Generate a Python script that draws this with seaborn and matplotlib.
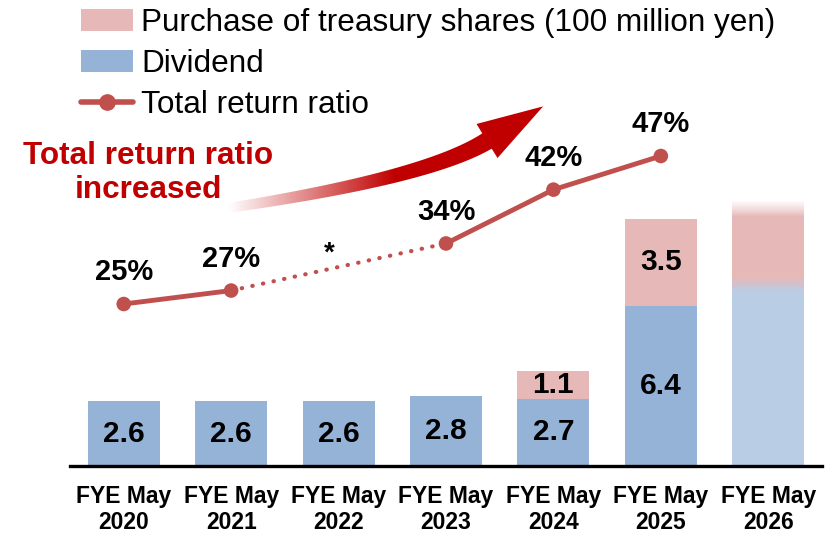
import numpy as np
import pandas as pd
import matplotlib
matplotlib.use('Agg')
import matplotlib.pyplot as plt
import seaborn as sns
from matplotlib.patches import Patch, Polygon
from matplotlib.lines import Line2D
from matplotlib.colors import LinearSegmentedColormap, to_rgb

# 데이터
years = ['FYE May\n2020', 'FYE May\n2021', 'FYE May\n2022', 'FYE May\n2023',
         'FYE May\n2024', 'FYE May\n2025', 'FYE May\n2026']
dividend = [2.6, 2.6, 2.6, 2.8, 2.7, 6.4, 7.0]
purchase = [0.0, 0.0, 0.0, 0.0, 1.1, 3.5, 3.6]
ratio = [25, 27, np.nan, 34, 42, 47, np.nan]

PINK = '#E6B9B8'
BLUE = '#95B3D7'
BLUE_LIGHT = '#B9CDE5'
LINE_RED = '#C0504D'
DARK_RED = '#C00000'

sns.set_theme(style='white')
plt.rcParams['font.family'] = ['Liberation Sans', 'DejaVu Sans']
plt.rcParams['text.color'] = 'black'
plt.rcParams['xtick.color'] = 'black'

df = pd.DataFrame({'year': years, 'dividend': dividend, 'purchase': purchase, 'ratio': ratio})
pos = np.arange(len(df))

fig = plt.figure(figsize=(8.37, 5.34), dpi=100)
ax = fig.add_axes([70 / 837, 68 / 534, 752 / 837, 466 / 534])
ax.patch.set_visible(False)

# 배당 막대
sns.barplot(data=df, x='year', y='dividend', color=BLUE, saturation=1,
            width=0.67, linewidth=0, ax=ax)
# 자사주 매입 (누적)
ax.bar(pos, df['purchase'], bottom=df['dividend'], width=0.67, color=PINK, linewidth=0)

# 2026 (계획) 막대는 흐리게
last = len(df) - 1
ax.patches[last].set_facecolor(BLUE_LIGHT)

bw = 0.67
x0, x1 = last - bw / 2, last + bw / 2
top = dividend[last] + purchase[last]
# 위쪽 페이드
fade = np.zeros((50, 1, 4))
fade[..., :3] = 1.0
fade[:, 0, 3] = np.linspace(0, 1, 50) ** 0.8
ax.imshow(fade, extent=[x0 - 0.01, x1 + 0.01, top - 0.6, top + 0.02], aspect='auto',
          origin='lower', zorder=3, interpolation='bilinear')
# 파랑-분홍 경계 그라데이션
c1, c2 = np.array(to_rgb(BLUE_LIGHT)), np.array(to_rgb(PINK))
tt = np.linspace(0, 1, 50)[:, None]
blend = (c1 * (1 - tt) + c2 * tt)[:, None, :]
ax.imshow(blend, extent=[x0, x1, dividend[last] - 0.05, dividend[last] + 0.55], aspect='auto',
          origin='lower', zorder=3, interpolation='bilinear')

ax.set_xlim(-0.5, len(df) - 0.5)
ax.set_ylim(0, 18.64)

# 막대 값 라벨
for i in range(len(df) - 1):
    ax.text(i, dividend[i] / 2, f'{dividend[i]:.1f}', ha='center', va='center',
            fontsize=21.5, fontweight='bold', color='black', zorder=5)
    if purchase[i] > 0:
        ax.text(i, dividend[i] + purchase[i] / 2, f'{purchase[i]:.1f}', ha='center', va='center',
                fontsize=21.5, fontweight='bold', color='black', zorder=5)

ax.set_xlabel('')
ax.set_ylabel('')
ax.set_yticks([])
ax.set_xticks(pos)
ax.set_xticklabels(years, fontsize=16.5, fontweight='bold', linespacing=1.15)
ax.tick_params(axis='x', length=0, pad=14)
for s in ['top', 'right', 'left']:
    ax.spines[s].set_visible(False)
ax.spines['bottom'].set_color('black')
ax.spines['bottom'].set_linewidth(2.4)

# 총환원율 꺾은선
ax2 = ax.twinx()
ax2.patch.set_visible(False)
ax2.set_ylim(0.92, 70.19)
ax2.set_yticks([])
for s in ax2.spines.values():
    s.set_visible(False)

sns.lineplot(x=pos[[0, 1]], y=[ratio[0], ratio[1]], color=LINE_RED, linewidth=3.5, ax=ax2)
sns.lineplot(x=pos[[1, 3]], y=[ratio[1], ratio[3]], color=LINE_RED, linewidth=3.0,
             linestyle=(0, (0.1, 2.5)), dash_capstyle='round', ax=ax2)
sns.lineplot(x=pos[[3, 4, 5]], y=[ratio[3], ratio[4], ratio[5]], color=LINE_RED,
             linewidth=3.5, ax=ax2)
valid = ~np.isnan(df['ratio'])
sns.scatterplot(x=pos[valid], y=df['ratio'][valid], s=110, color=LINE_RED,
                edgecolor='none', zorder=5, ax=ax2)
for i in pos[valid]:
    ax2.annotate(f'{int(ratio[i])}%', (i, ratio[i]), xytext=(0, 23), textcoords='offset points',
                 ha='center', va='center', fontsize=21, fontweight='bold')
ax2.text(1.91, 32.5, '*', ha='center', va='center', fontsize=20, fontweight='bold')

# 범례
handles = [
    Patch(facecolor=PINK, edgecolor='none', label='Purchase of treasury shares (100 million yen)'),
    Patch(facecolor=BLUE, edgecolor='none', label='Dividend'),
    Line2D([0], [0], color=LINE_RED, linewidth=4, marker='o', markersize=11,
           markeredgecolor=LINE_RED, label='Total return ratio'),
]
fig.legend(handles=handles, loc='upper left', bbox_to_anchor=(78 / 837, 1 - 5 / 534),
           frameon=False, fontsize=22.7, handlelength=1.65, handleheight=0.7,
           handletextpad=0.25, labelspacing=0.34, borderpad=0.1, borderaxespad=0)

# 화살표 (그라데이션)
ov = fig.add_axes([0, 0, 1, 1], zorder=10)
ov.axis('off')
ov.patch.set_alpha(0)

p0 = np.array([228.0, 208.0])
p1 = np.array([427.0, 178.0])
p2 = np.array([487.0, 141.0])
t = np.linspace(0, 1, 60)
c = ((1 - t) ** 2)[:, None] * p0 + (2 * (1 - t) * t)[:, None] * p1 + (t ** 2)[:, None] * p2
d = 2 * (1 - t)[:, None] * (p1 - p0) + 2 * t[:, None] * (p2 - p1)
d = d / np.linalg.norm(d, axis=1)[:, None]
n = np.stack([-d[:, 1], d[:, 0]], axis=1)
w = (5.0 + 4.0 * t)[:, None]
upper = c + n * w
lower = c - n * w
tip = p2 + d[-1] * 66
head = [p2 + n[-1] * 20, tip, p2 - n[-1] * 20]
poly = np.vstack([upper, head, lower[::-1]])
arrow = Polygon(poly, closed=True, facecolor='none', edgecolor='none')
ov.add_patch(arrow)

cmap = LinearSegmentedColormap.from_list('fade_red', ['#FFFFFF', '#E08080', DARK_RED])
gx = np.clip((np.linspace(220, 550, 300) - 228) / (395 - 228), 0, 1)
im = ov.imshow(gx[None, :], extent=[220, 550, 220, 95], cmap=cmap, aspect='auto',
               interpolation='bilinear', vmin=0, vmax=1)
im.set_clip_path(arrow)
ov.set_xlim(0, 837)
ov.set_ylim(534, 0)

fig.text(148 / 837, 1 - 173 / 534, 'Total return ratio\nincreased', ha='center', va='center',
         fontsize=22.7, fontweight='bold', color=DARK_RED, linespacing=1.2)

fig.savefig('out.png', dpi=100)
